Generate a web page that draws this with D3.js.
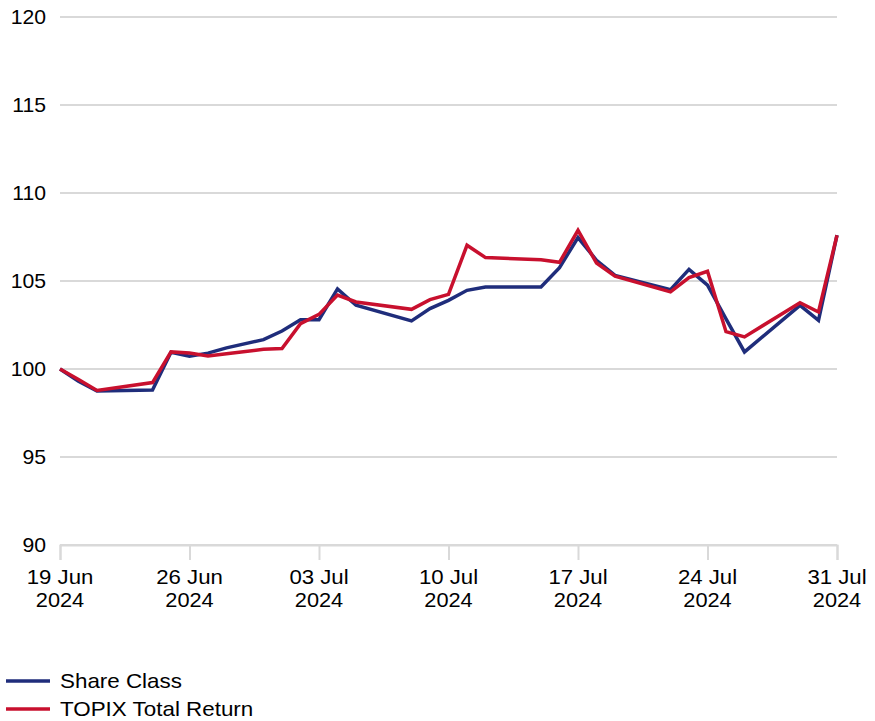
<!DOCTYPE html>
<html>
<head>
<meta charset="utf-8">
<script src="https://cdn.jsdelivr.net/npm/d3@7"></script>
<style>
  html, body { margin: 0; padding: 0; background: #fff; }
  svg { display: block; }
  text { font-family: "Liberation Sans", Arial, sans-serif; fill: #000; }
</style>
</head>
<body>
<svg id="chart" width="875" height="721"></svg>
<script>
const dates = ["2024-06-19","2024-06-20","2024-06-21","2024-06-24","2024-06-25","2024-06-26","2024-06-27","2024-06-28","2024-06-30","2024-07-01","2024-07-02","2024-07-03","2024-07-04","2024-07-05","2024-07-08","2024-07-09","2024-07-10","2024-07-11","2024-07-12","2024-07-15","2024-07-16","2024-07-17","2024-07-18","2024-07-19","2024-07-22","2024-07-23","2024-07-24","2024-07-25","2024-07-26","2024-07-29","2024-07-30","2024-07-31"];
const shareClass = [100, 99.3, 98.75, 98.8, 100.95, 100.72, 100.9, 101.2, 101.67, 102.16, 102.8, 102.8, 104.55, 103.62, 102.73, 103.43, 103.9, 104.47, 104.66, 104.66, 105.76, 107.47, 106.18, 105.32, 104.51, 105.66, 104.76, 102.85, 100.97, 103.62, 102.77, 107.6];
const topix = [100, 99.4, 98.78, 99.23, 100.97, 100.91, 100.74, 100.87, 101.12, 101.16, 102.58, 103.1, 104.2, 103.81, 103.39, 103.94, 104.24, 107.03, 106.33, 106.21, 106.06, 107.88, 106.02, 105.27, 104.38, 105.19, 105.55, 102.12, 101.82, 103.77, 103.24, 107.6];
const seriesNames = ["Share Class", "TOPIX Total Return"];
const seriesColors = ["#1f2d7b", "#c8102e"];
const yTicks = [90, 95, 100, 105, 110, 115, 120];
const xTickDates = ["2024-06-19","2024-06-26","2024-07-03","2024-07-10","2024-07-17","2024-07-24","2024-07-31"];

const parse = d3.utcParse("%Y-%m-%d");
const svg = d3.select("#chart");
const FS = 20;

const x = d3.scaleUtc()
  .domain([parse("2024-06-19"), parse("2024-07-31")])
  .range([60, 837]);
const y = d3.scaleLinear().domain([90, 120]).range([545, 17]);

// gridlines
svg.append("g").selectAll("line")
  .data(yTicks)
  .join("line")
  .attr("x1", 60).attr("x2", 837)
  .attr("y1", d => y(d)).attr("y2", d => y(d))
  .attr("stroke", "#d9d9d9").attr("stroke-width", 2);

// y labels
svg.append("g").selectAll("text")
  .data(yTicks)
  .join("text")
  .attr("transform", d => `translate(46,${y(d)}) scale(1.06,1)`)
  .attr("dy", "0.35em")
  .attr("text-anchor", "end")
  .attr("font-size", FS)
  .text(d => d);

// x axis
const xAxis = d3.axisBottom(x)
  .tickValues(xTickDates.map(parse))
  .tickSize(15)
  .tickFormat("");
const gx = svg.append("g").attr("transform", `translate(0,${y(90)})`).call(xAxis);
gx.select(".domain").attr("stroke", "#d9d9d9").attr("stroke-width", 2);
gx.selectAll(".tick line").attr("stroke", "#d9d9d9").attr("stroke-width", 2);

const fmtDay = d3.utcFormat("%d %b");
const fmtYear = d3.utcFormat("%Y");
const labels = svg.append("g").selectAll("g")
  .data(xTickDates.map(parse))
  .join("g")
  .attr("transform", d => `translate(${x(d)},0)`);
labels.append("text").attr("transform", "translate(0,584) scale(1.11,1)").attr("text-anchor", "middle").attr("font-size", FS).text(d => fmtDay(d));
labels.append("text").attr("transform", "translate(0,607) scale(1.09,1)").attr("text-anchor", "middle").attr("font-size", FS).text(d => fmtYear(d));

// lines
const line = d3.line()
  .x((d, i) => x(parse(dates[i])))
  .y(d => y(d));
[shareClass, topix].forEach((vals, k) => {
  svg.append("path")
    .datum(vals)
    .attr("d", line)
    .attr("fill", "none")
    .attr("stroke", seriesColors[k])
    .attr("stroke-width", 3.5)
    .attr("stroke-linejoin", "miter");
});

// legend
const leg = svg.append("g").selectAll("g")
  .data(seriesNames)
  .join("g")
  .attr("transform", (d, i) => `translate(0,${681 + i * 28})`);
leg.append("line").attr("x1", 6).attr("x2", 50).attr("y1", 0).attr("y2", 0)
  .attr("stroke", (d, i) => seriesColors[i]).attr("stroke-width", 3.5);
leg.append("text").attr("transform", "translate(60,0) scale(1.12,1)").attr("dy", "0.35em").attr("font-size", FS).text(d => d);
</script>
</body>
</html>
